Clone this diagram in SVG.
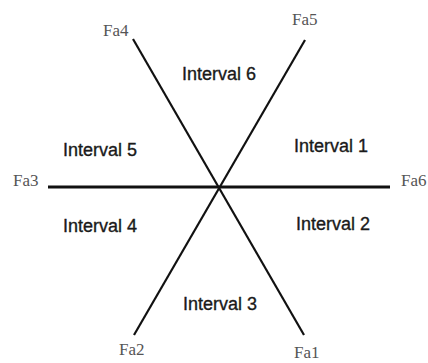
<svg xmlns="http://www.w3.org/2000/svg" width="428" height="363" viewBox="0 0 428 363">
<style>
.fa{font-family:"Liberation Serif","Times New Roman",serif;font-size:17px;fill:#555}
.iv{font-family:"Liberation Sans",Arial,sans-serif;font-size:18px;fill:#1a1a1a;stroke:#1a1a1a;stroke-width:0.35}
.ln{stroke:#111;fill:none;stroke-width:2.2}
</style>
<rect width="428" height="363" fill="#fff"/>
<g id="connectors">
<line class="ln" x1="48" y1="187" x2="390" y2="187" style="stroke-width:2.8"/>
<line class="ln" x1="133" y1="39" x2="304" y2="335"/>
<line class="ln" x1="305" y1="40" x2="134" y2="335"/>
</g>
<g id="fa1"><text class="fa" x="294" y="358">Fa1</text></g>
<g id="fa2"><text class="fa" x="119" y="355">Fa2</text></g>
<g id="fa3"><text class="fa" x="13" y="186">Fa3</text></g>
<g id="fa4"><text class="fa" x="103" y="36">Fa4</text></g>
<g id="fa5"><text class="fa" x="292" y="25">Fa5</text></g>
<g id="fa6"><text class="fa" x="401" y="186">Fa6</text></g>
<g id="interval1"><text class="iv" x="294" y="152">Interval 1</text></g>
<g id="interval2"><text class="iv" x="296" y="230">Interval 2</text></g>
<g id="interval3"><text class="iv" x="183" y="310">Interval 3</text></g>
<g id="interval4"><text class="iv" x="63" y="232">Interval 4</text></g>
<g id="interval5"><text class="iv" x="63" y="156">Interval 5</text></g>
<g id="interval6"><text class="iv" x="182" y="80">Interval 6</text></g>
</svg>
